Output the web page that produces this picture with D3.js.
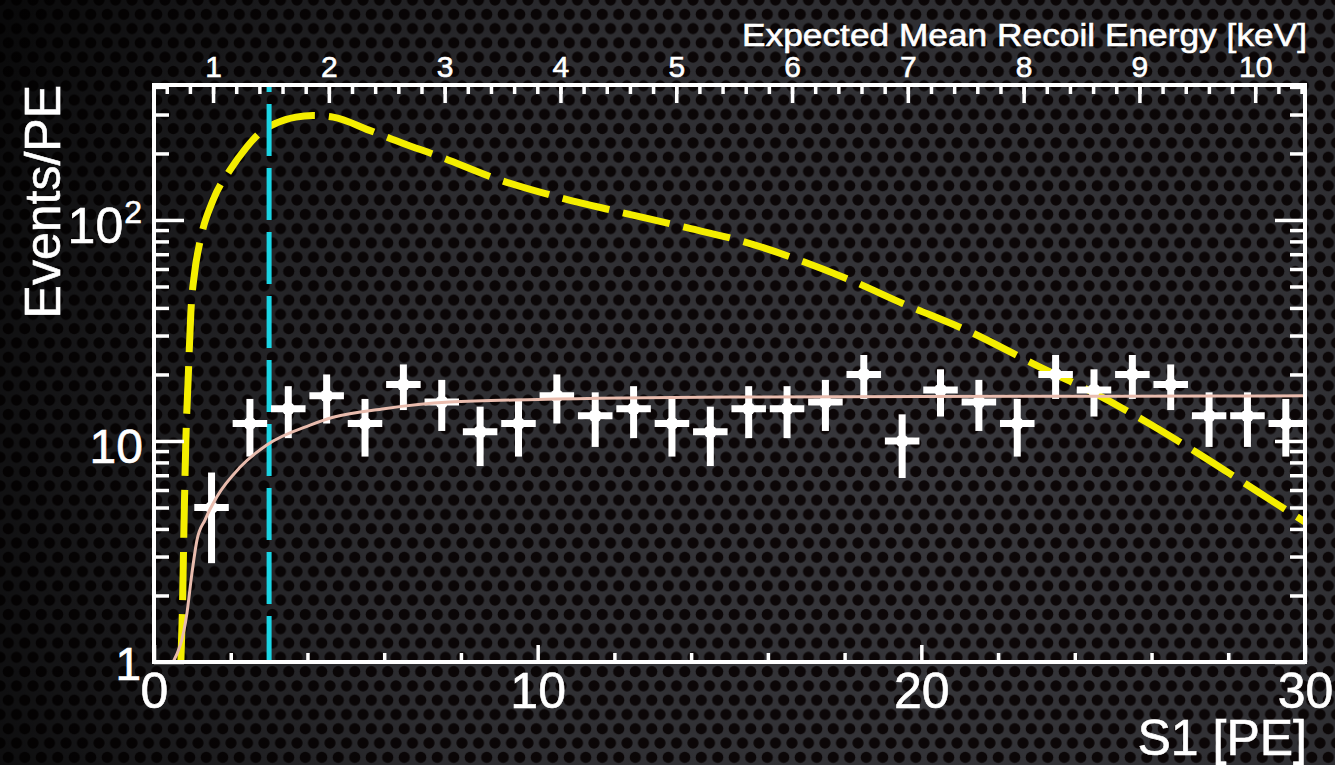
<!DOCTYPE html>
<html>
<head>
<meta charset="utf-8">
<script src="https://cdn.jsdelivr.net/npm/d3@7"></script>
<style>
  html, body { margin: 0; padding: 0; background: #000; overflow: hidden; }
  svg { display: block; }
  text { font-family: "Liberation Sans", Arial, Helvetica, sans-serif; fill: #fff; stroke: #fff; stroke-width: 0.6px; }
</style>
</head>
<body>
<svg id="chart" width="1335" height="765"></svg>
<script>
// ---- measured spectrum: events per PE in 1-PE bins of S1 ----
const binCenters = [1.5, 2.5, 3.5, 4.5, 5.5, 6.5, 7.5, 8.5, 9.5, 10.5,
                    11.5, 12.5, 13.5, 14.5, 15.5, 16.5, 17.5, 18.5, 19.5, 20.5,
                    21.5, 22.5, 23.5, 24.5, 25.5, 26.5, 27.5, 28.5, 29.5];
const binCounts  = [5, 12, 14, 16, 12, 18, 15, 11, 12, 16,
                    13, 14, 12, 11, 14, 14, 15, 20, 10, 17,
                    15, 12, 20, 17, 20, 18, 13, 13, 12];
const binErrors  = [2.2, 3.5, 3.7, 4.0, 3.5, 4.2, 3.9, 3.3, 3.5, 4.0,
                    3.6, 3.7, 3.5, 3.3, 3.7, 3.7, 3.9, 4.5, 3.2, 4.1,
                    3.9, 3.5, 4.5, 4.1, 4.5, 4.2, 3.6, 3.6, 3.5];
const binHalfWidth = 0.45;

// ---- background-only fit (solid) ----
const fitS1  = [0.5, 0.86, 0.99, 1.12, 1.33, 1.64, 2.24, 2.94, 4.07, 4.67, 6.0, 7.7, 10, 15, 20, 25, 30];
const fitVal = [1.0, 1.67, 2.53, 3.56, 4.4, 5.6, 7.6, 9.6, 11.8, 12.8, 14.0, 15.0, 15.4, 15.8, 15.9, 15.95, 16.0];

// ---- expected signal spectrum (dashed) ----
const signalS1  = [0.70, 0.74, 0.78, 0.83, 0.89, 0.96, 1.06, 1.2, 1.54, 1.98, 2.4, 2.76, 3.2, 3.7,
                   4.14, 4.67, 5.6, 6.5, 7.4, 9.0, 10.6, 12.1, 13.8, 15.45, 16.8, 18.2, 19.5, 21.3,
                   23.0, 24.5, 25.9, 27.3, 28.7, 30];
const signalVal = [1.0, 1.7, 4.0, 10, 19, 38, 58, 80, 123, 168, 212, 248, 275, 292,
                   297, 292, 255, 222, 195, 152, 126, 109, 93, 79, 66, 53, 42, 31,
                   22, 16.5, 12.1, 8.6, 6.0, 4.3];

// ---- analysis threshold ----
const thresholdS1 = 3;

// ---- axes ----
const s1Domain = [0, 30];
const countDomain = [1, 408];
const keVDomain = [0.49, 10.43];
const s1MajorTicks = [0, 10, 20, 30];
const s1MinorTicks = [2, 4, 6, 8, 12, 14, 16, 18, 22, 24, 26, 28];
const keVMajorTicks = [1, 2, 3, 4, 5, 6, 7, 8, 9, 10];
const yMajorTicks = [1, 10, 100];
const yMinorTicks = [2, 3, 4, 5, 6, 7, 8, 9, 20, 30, 40, 50, 60, 70, 80, 90, 200, 300, 400];
const xTitle = "S1 [PE]";
const yTitle = "Events/PE";
const topTitle = "Expected Mean Recoil Energy [keV]";

const W = 1335, H = 765;
const L = 154, R = 1305, T = 85, B = 662;

const svg = d3.select("#chart");
const defs = svg.append("defs");

// perforated-metal backdrop
const pitch = 16.5, rowH = pitch * Math.sqrt(3) / 2;
const pat = defs.append("pattern")
  .attr("id", "holes").attr("patternUnits", "userSpaceOnUse")
  .attr("width", pitch).attr("height", rowH * 2);
pat.append("rect").attr("width", pitch).attr("height", rowH * 2).attr("fill", "#3b3b40");
[[0, 0], [pitch, 0], [pitch / 2, rowH], [0, rowH * 2], [pitch, rowH * 2]].forEach(([cx, cy]) => {
  pat.append("circle").attr("cx", cx).attr("cy", cy).attr("r", 5.6).attr("fill", "#0d0708");
});
const vig = defs.append("radialGradient").attr("id", "vignette")
  .attr("gradientUnits", "userSpaceOnUse")
  .attr("cx", 950).attr("cy", 480).attr("r", 1050);
vig.append("stop").attr("offset", "0%").attr("stop-color", "#000").attr("stop-opacity", 0.05);
vig.append("stop").attr("offset", "55%").attr("stop-color", "#000").attr("stop-opacity", 0.25);
vig.append("stop").attr("offset", "100%").attr("stop-color", "#000").attr("stop-opacity", 0.85);

const soft = defs.append("filter").attr("id", "soft")
  .attr("x", "-20%").attr("y", "-20%").attr("width", "140%").attr("height", "140%");
soft.append("feGaussianBlur").attr("stdDeviation", 0.7);

svg.append("rect").attr("width", W).attr("height", H).attr("fill", "url(#holes)");
svg.append("rect").attr("width", W).attr("height", H).attr("fill", "url(#vignette)");

// scales
const x = d3.scaleLinear().domain(s1Domain).range([L, R]);
const y = d3.scaleLog().domain(countDomain).range([B, T]);
const xTop = d3.scaleLinear().domain(keVDomain).range([L, R]);

defs.append("clipPath").attr("id", "plotClip")
  .append("rect").attr("x", L).attr("y", T).attr("width", R - L).attr("height", B - T);
const plot = svg.append("g").attr("clip-path", "url(#plotClip)");

// signal expectation
const signalData = signalS1.map((s, i) => [s, signalVal[i]]);
plot.append("path")
  .datum(signalData)
  .attr("fill", "none")
  .attr("stroke", "#f4ee00")
  .attr("stroke-width", 7)
  .attr("stroke-dasharray", "48,14")
  .attr("d", d3.line().x(d => x(d[0])).y(d => y(d[1])).curve(d3.curveMonotoneX));

// threshold line
plot.append("line")
  .attr("x1", x(thresholdS1)).attr("x2", x(thresholdS1))
  .attr("y1", T).attr("y2", B)
  .attr("stroke", "#1ad4e4")
  .attr("stroke-width", 5)
  .attr("stroke-dasharray", "52,12")
  .attr("stroke-dashoffset", 45);

// data points with error bars
const pts = plot.append("g").attr("filter", "url(#soft)");
const pg = pts.selectAll("g.pt")
  .data(binCenters.map((s, i) => ({ s, v: binCounts[i], e: binErrors[i] })))
  .join("g").attr("class", "pt");
pg.append("line")
  .attr("x1", d => x(d.s)).attr("x2", d => x(d.s))
  .attr("y1", d => y(d.v + d.e)).attr("y2", d => y(Math.max(d.v - d.e, 1)))
  .attr("stroke", "#fff").attr("stroke-width", 7);
pg.append("line")
  .attr("x1", d => x(d.s - binHalfWidth)).attr("x2", d => x(d.s + binHalfWidth))
  .attr("y1", d => y(d.v)).attr("y2", d => y(d.v))
  .attr("stroke", "#fff").attr("stroke-width", 7);
pg.append("circle")
  .attr("cx", d => x(d.s)).attr("cy", d => y(d.v)).attr("r", 6.5)
  .attr("fill", "#fff");

// background fit
const fitData = fitS1.map((s, i) => [s, fitVal[i]]);
plot.append("path")
  .datum(fitData)
  .attr("fill", "none")
  .attr("stroke", "#e9bcae")
  .attr("stroke-width", 3)
  .attr("d", d3.line().x(d => x(d[0])).y(d => y(d[1])).curve(d3.curveMonotoneX));

// ---- axes (ticks point inward) ----
function styleTicks(g) {
  g.select(".domain").remove();
  g.selectAll(".tick line").attr("stroke", "#fff").attr("stroke-width", 3.5);
}
svg.append("g").attr("transform", `translate(0,${B})`)
  .call(d3.axisBottom(x).tickValues(s1MinorTicks).tickSizeInner(-9).tickSizeOuter(0).tickFormat(""))
  .call(styleTicks);
const bottomMajor = svg.append("g").attr("transform", `translate(0,${B})`)
  .call(d3.axisBottom(x).tickValues(s1MajorTicks).tickSizeInner(-17).tickSizeOuter(0).tickPadding(10))
  .call(styleTicks);
bottomMajor.selectAll(".tick text")
  .attr("font-size", 50).attr("fill", "#fff").attr("font-family", null)
  .attr("dy", "0.71em");

svg.append("g").attr("transform", `translate(0,${T})`)
  .call(d3.axisTop(xTop).tickValues(d3.range(0.6, 10.41, 0.2)).tickSizeInner(-9).tickSizeOuter(0).tickFormat(""))
  .call(styleTicks);
const topMajor = svg.append("g").attr("transform", `translate(0,${T})`)
  .call(d3.axisTop(xTop).tickValues(keVMajorTicks).tickSizeInner(-18).tickSizeOuter(0).tickPadding(8))
  .call(styleTicks);
topMajor.selectAll(".tick text")
  .attr("font-size", 30).attr("fill", "#fff").attr("font-family", null);

[[L, d3.axisLeft], [R, d3.axisRight]].forEach(([px, ax]) => {
  svg.append("g").attr("transform", `translate(${px},0)`)
    .call(ax(y).tickValues(yMinorTicks).tickSizeInner(-15).tickSizeOuter(0).tickFormat(""))
    .call(styleTicks);
  svg.append("g").attr("transform", `translate(${px},0)`)
    .call(ax(y).tickValues(yMajorTicks).tickSizeInner(-30).tickSizeOuter(0).tickFormat(""))
    .call(styleTicks);
});

// left tick labels
svg.append("text").attr("x", 141).attr("y", y(1) + 18)
  .attr("text-anchor", "end").attr("font-size", 46).text("1");
svg.append("text").attr("x", 143).attr("y", y(10) + 22)
  .attr("text-anchor", "end").attr("font-size", 48).text("10");
const t100 = svg.append("text").attr("x", 142).attr("y", y(100) + 23)
  .attr("text-anchor", "end").attr("font-size", 50);
t100.append("tspan").text("10");
t100.append("tspan").attr("font-size", 32).attr("dy", -20).attr("dx", 1).text("2");

// frame
svg.append("rect").attr("x", L).attr("y", T).attr("width", R - L).attr("height", B - T)
  .attr("fill", "none").attr("stroke", "#fff").attr("stroke-width", 4);

// titles
svg.append("text").attr("x", 1307).attr("y", 755)
  .attr("text-anchor", "end").attr("font-size", 50).text(xTitle);
svg.append("text").attr("transform", `translate(60,${T}) rotate(-90)`)
  .attr("text-anchor", "end").attr("font-size", 50).text(yTitle);
svg.append("text").attr("x", 1307).attr("y", 46)
  .attr("text-anchor", "end").attr("font-size", 32)
  .attr("textLength", 565).attr("lengthAdjust", "spacingAndGlyphs")
  .text(topTitle);
</script>
</body>
</html>
